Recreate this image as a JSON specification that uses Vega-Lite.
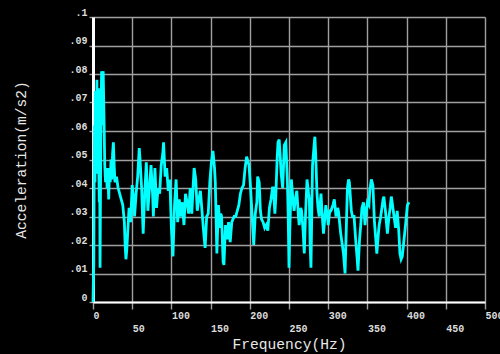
{
  "$schema": "https://vega.github.io/schema/vega-lite/v6.json",
  "width": 392,
  "height": 285,
  "autosize": "none",
  "padding": {"left": 93, "top": 17, "right": 15, "bottom": 52},
  "background": "#000000",
  "config": {
    "view": {"stroke": null, "fill": "#000000"},
    "axis": {
      "gridColor": "#a0a0a0",
      "gridWidth": 1.4,
      "gridOpacity": 1,
      "tickColor": "#a0a0a0",
      "tickWidth": 1.4,
      "labelColor": "#dcdcdc",
      "labelFont": "Liberation Mono",
      "labelFontSize": 10,
      "labelFontWeight": "bold",
      "titleColor": "#e8e8e8",
      "titleFont": "Liberation Mono",
      "titleFontSize": 14.6,
      "titleFontWeight": "normal",
      "domainColor": "#ffffff"
    }
  },
  "data": {
    "values": [
      {"f": 0, "a": 0}, {"f": 1, "a": 0.014}, {"f": 1.5, "a": 0.045}, {"f": 2, "a": 0.062}, {"f": 2.5, "a": 0.042}, {"f": 3, "a": 0.074},
      {"f": 3.5, "a": 0.07}, {"f": 4, "a": 0.045}, {"f": 4.5, "a": 0.066}, {"f": 5, "a": 0.078}, {"f": 5.5, "a": 0.05}, {"f": 6, "a": 0.064}, {"f": 6.5, "a": 0.074}, {"f": 7, "a": 0.075},
      {"f": 7.5, "a": 0.045}, {"f": 8, "a": 0.035}, {"f": 8.5, "a": 0.05}, {"f": 9, "a": 0.012}, {"f": 10, "a": 0.06}, {"f": 10.5, "a": 0.072}, {"f": 11, "a": 0.081},
      {"f": 11.5, "a": 0.062}, {"f": 12, "a": 0.074}, {"f": 13, "a": 0.081}, {"f": 14, "a": 0.065}, {"f": 15, "a": 0.048},
      {"f": 16, "a": 0.042}, {"f": 17, "a": 0.047}, {"f": 18, "a": 0.04}, {"f": 19, "a": 0.047},
      {"f": 20, "a": 0.036}, {"f": 21, "a": 0.046}, {"f": 22, "a": 0.042}, {"f": 23, "a": 0.05},
      {"f": 24, "a": 0.043}, {"f": 25, "a": 0.052}, {"f": 26, "a": 0.056}, {"f": 27, "a": 0.048},
      {"f": 28, "a": 0.042}, {"f": 30, "a": 0.044}, {"f": 32, "a": 0.04}, {"f": 34, "a": 0.038},
      {"f": 36, "a": 0.036}, {"f": 38, "a": 0.034}, {"f": 40, "a": 0.028}, {"f": 41, "a": 0.02},
      {"f": 42, "a": 0.015}, {"f": 43, "a": 0.018}, {"f": 44, "a": 0.023}, {"f": 46, "a": 0.033},
      {"f": 48, "a": 0.028}, {"f": 50, "a": 0.041}, {"f": 52, "a": 0.036}, {"f": 53, "a": 0.03},
      {"f": 55, "a": 0.038}, {"f": 57, "a": 0.044}, {"f": 59, "a": 0.054}, {"f": 60, "a": 0.05},
      {"f": 62, "a": 0.04}, {"f": 64, "a": 0.024}, {"f": 66, "a": 0.038}, {"f": 68, "a": 0.049},
      {"f": 70, "a": 0.032}, {"f": 72, "a": 0.04}, {"f": 74, "a": 0.048}, {"f": 76, "a": 0.038},
      {"f": 77, "a": 0.03}, {"f": 79, "a": 0.047}, {"f": 81, "a": 0.033}, {"f": 83, "a": 0.04},
      {"f": 85, "a": 0.038}, {"f": 87, "a": 0.048}, {"f": 89, "a": 0.052}, {"f": 90, "a": 0.056},
      {"f": 92, "a": 0.044}, {"f": 94, "a": 0.047}, {"f": 96, "a": 0.039}, {"f": 98, "a": 0.043},
      {"f": 100, "a": 0.026}, {"f": 102, "a": 0.016}, {"f": 104, "a": 0.034}, {"f": 106, "a": 0.043},
      {"f": 108, "a": 0.028}, {"f": 110, "a": 0.036}, {"f": 112, "a": 0.03}, {"f": 114, "a": 0.035},
      {"f": 116, "a": 0.027}, {"f": 118, "a": 0.038}, {"f": 120, "a": 0.035}, {"f": 122, "a": 0.031},
      {"f": 124, "a": 0.04}, {"f": 126, "a": 0.031}, {"f": 128, "a": 0.042}, {"f": 129, "a": 0.047},
      {"f": 131, "a": 0.043}, {"f": 133, "a": 0.032}, {"f": 135, "a": 0.036}, {"f": 137, "a": 0.039},
      {"f": 139, "a": 0.032}, {"f": 141, "a": 0.025}, {"f": 143, "a": 0.019}, {"f": 145, "a": 0.03},
      {"f": 147, "a": 0.031}, {"f": 149, "a": 0.042}, {"f": 151, "a": 0.049}, {"f": 153, "a": 0.053},
      {"f": 155, "a": 0.047}, {"f": 156, "a": 0.042}, {"f": 158, "a": 0.017}, {"f": 160, "a": 0.034},
      {"f": 162, "a": 0.026}, {"f": 163, "a": 0.031}, {"f": 164, "a": 0.03}, {"f": 166, "a": 0.014},
      {"f": 167, "a": 0.013}, {"f": 169, "a": 0.027}, {"f": 171, "a": 0.022}, {"f": 172, "a": 0.026},
      {"f": 173, "a": 0.028}, {"f": 175, "a": 0.021}, {"f": 177, "a": 0.028}, {"f": 180, "a": 0.03},
      {"f": 182, "a": 0.03}, {"f": 184, "a": 0.032}, {"f": 186, "a": 0.034}, {"f": 188, "a": 0.038},
      {"f": 190, "a": 0.04}, {"f": 192, "a": 0.041}, {"f": 194, "a": 0.047}, {"f": 196, "a": 0.051},
      {"f": 197, "a": 0.05}, {"f": 199, "a": 0.048}, {"f": 201, "a": 0.04}, {"f": 202, "a": 0.035},
      {"f": 203, "a": 0.03}, {"f": 205, "a": 0.02}, {"f": 207, "a": 0.031}, {"f": 209, "a": 0.035},
      {"f": 210, "a": 0.044}, {"f": 212, "a": 0.042}, {"f": 213.5, "a": 0.032}, {"f": 215, "a": 0.029},
      {"f": 217, "a": 0.028}, {"f": 219, "a": 0.026}, {"f": 221, "a": 0.027}, {"f": 223, "a": 0.025},
      {"f": 225, "a": 0.033}, {"f": 227, "a": 0.036}, {"f": 229, "a": 0.04}, {"f": 230, "a": 0.04},
      {"f": 232, "a": 0.031}, {"f": 233, "a": 0.036}, {"f": 235, "a": 0.051}, {"f": 236, "a": 0.056},
      {"f": 237.5, "a": 0.057}, {"f": 239, "a": 0.05}, {"f": 240, "a": 0.045}, {"f": 242, "a": 0.04},
      {"f": 244, "a": 0.055}, {"f": 246, "a": 0.056}, {"f": 248, "a": 0.042}, {"f": 249, "a": 0.03},
      {"f": 250, "a": 0.012}, {"f": 251, "a": 0.025}, {"f": 253, "a": 0.043}, {"f": 255, "a": 0.036},
      {"f": 256.5, "a": 0.032}, {"f": 258, "a": 0.036}, {"f": 260, "a": 0.039}, {"f": 262, "a": 0.03},
      {"f": 263, "a": 0.027}, {"f": 265, "a": 0.033}, {"f": 266, "a": 0.032}, {"f": 268, "a": 0.025},
      {"f": 269.5, "a": 0.017}, {"f": 271, "a": 0.03}, {"f": 273, "a": 0.043}, {"f": 275, "a": 0.038},
      {"f": 276, "a": 0.036}, {"f": 277, "a": 0.02}, {"f": 278, "a": 0.012}, {"f": 279, "a": 0.03},
      {"f": 280, "a": 0.048}, {"f": 282, "a": 0.055}, {"f": 283, "a": 0.058}, {"f": 284, "a": 0.052},
      {"f": 285.7, "a": 0.038}, {"f": 287, "a": 0.033}, {"f": 288.6, "a": 0.03}, {"f": 290.8, "a": 0.038},
      {"f": 292, "a": 0.032}, {"f": 294, "a": 0.024}, {"f": 295.5, "a": 0.029}, {"f": 297, "a": 0.034},
      {"f": 299, "a": 0.03}, {"f": 300, "a": 0.027}, {"f": 302, "a": 0.032}, {"f": 303.5, "a": 0.032},
      {"f": 306, "a": 0.034}, {"f": 307.8, "a": 0.036}, {"f": 310, "a": 0.03}, {"f": 312, "a": 0.033},
      {"f": 313, "a": 0.032}, {"f": 316, "a": 0.024}, {"f": 318, "a": 0.02}, {"f": 319.5, "a": 0.017},
      {"f": 321.5, "a": 0.01}, {"f": 323, "a": 0.025}, {"f": 324.5, "a": 0.04}, {"f": 326, "a": 0.043},
      {"f": 327, "a": 0.042}, {"f": 329.5, "a": 0.032}, {"f": 331, "a": 0.03}, {"f": 333, "a": 0.03},
      {"f": 335, "a": 0.022}, {"f": 337, "a": 0.015}, {"f": 338, "a": 0.011}, {"f": 340, "a": 0.022},
      {"f": 341.5, "a": 0.027}, {"f": 343, "a": 0.033}, {"f": 345, "a": 0.035}, {"f": 347, "a": 0.027},
      {"f": 349, "a": 0.033}, {"f": 350, "a": 0.035}, {"f": 352, "a": 0.034}, {"f": 353, "a": 0.039},
      {"f": 355, "a": 0.043}, {"f": 357, "a": 0.041}, {"f": 359, "a": 0.028}, {"f": 361, "a": 0.021},
      {"f": 362, "a": 0.017}, {"f": 364, "a": 0.024}, {"f": 365, "a": 0.027}, {"f": 367, "a": 0.03},
      {"f": 368, "a": 0.032}, {"f": 370, "a": 0.036}, {"f": 371, "a": 0.037}, {"f": 373, "a": 0.032},
      {"f": 375.5, "a": 0.024}, {"f": 377.5, "a": 0.03}, {"f": 379, "a": 0.033}, {"f": 380.5, "a": 0.037},
      {"f": 383, "a": 0.032}, {"f": 385, "a": 0.028}, {"f": 386, "a": 0.026}, {"f": 388, "a": 0.032},
      {"f": 390, "a": 0.025}, {"f": 391.5, "a": 0.017}, {"f": 393, "a": 0.015}, {"f": 394.5, "a": 0.016},
      {"f": 396, "a": 0.02}, {"f": 397.5, "a": 0.024}, {"f": 399, "a": 0.028}, {"f": 401, "a": 0.034},
      {"f": 403, "a": 0.035}
    ]
  },
  "mark": {"type": "line", "color": "#00ffff", "strokeWidth": 2.8, "strokeJoin": "miter", "interpolate": "linear"},
  "encoding": {
    "x": {
      "field": "f",
      "type": "quantitative",
      "title": "Frequency(Hz)",
      "scale": {"domain": [0, 500], "nice": false, "zero": false},
      "axis": {
        "values": [0, 50, 100, 150, 200, 250, 300, 350, 400, 450, 500],
        "grid": true,
        "tickSize": 7,
        "labelAlign": "left",
        "labelBaseline": "top",
        "labelPadding": {"condition": {"test": "datum.value % 100 == 50", "value": 14.5}, "value": 1.5},
        "labelFlush": false,
        "labelOverlap": false,
        "domainWidth": 2.2,
        "titlePadding": 3
      }
    },
    "y": {
      "field": "a",
      "type": "quantitative",
      "title": "Acceleration(m/s2)",
      "scale": {"domain": [0, 0.1], "nice": false, "zero": false},
      "axis": {
        "values": [0, 0.01, 0.02, 0.03, 0.04, 0.05, 0.06, 0.07, 0.08, 0.09, 0.1],
        "grid": true,
        "tickSize": 4,
        "labelPadding": 2,
        "labelBaseline": "bottom",
        "labelFlush": false,
        "labelOverlap": false,
        "labelExpr": "datum.value == 0 ? '0' : replace(format(datum.value, '.2~f'), '0.', '.')",
        "domainWidth": 3,
        "titlePadding": 40
      }
    }
  }
}
